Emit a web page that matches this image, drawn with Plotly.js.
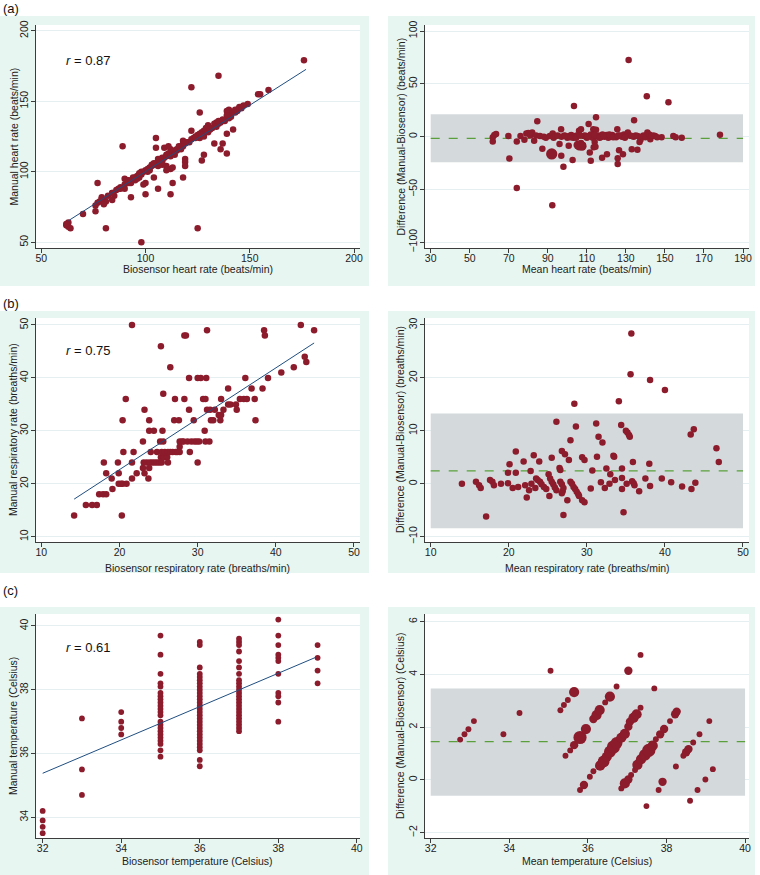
<!DOCTYPE html>
<html><head><meta charset="utf-8">
<script src="https://cdn.plot.ly/plotly-3.0.1.min.js"></script>
<style>html,body{margin:0;padding:0;background:#fff}#chart{width:760px;height:875px}</style>
</head><body><div id="chart"></div>
<script>
// ---------- (a) Heart rate: biosensor vs manual ----------
const hrBio = [176,135,122,159,154,155,149,146,145,144,143,141,140,139,141,140,139,142,139,137,136,139,133,128,127,
  138,136,135,134,133,130,129,128,127,126,125,124,123,122,121,120,119,118,117,116,115,114,113,112,111,110,109,108,107,106,105,104,103,102,101,100,99,98,97,96,95,94,93,92,90,88,86,84,82,80,78,77,
  122,126,118,119,118,115,113,111,112,109,111,105,105,89,108,106,
  119,119,119,118,113,112,112,113,110,110,108,106,104,106,100,100,99,102,101,98,97,96,93,90,90,91,87,88,85,84,84,81,80,79,79,77,76,76,70,63,62,63,64,62,81,125,98,
  126,124,127,128,130,131,132,134,135,137,143,144,145,146,147,103,104,107,108,110,112,114,116,117,98,97,95,94,93,92];
const hrMan = [179,168,160,158,155,155,148,146,145,144,142,141,144,143,139,138,140,130,127,120,116,113,120,112,108,
  136,135,134,135,134,133,131,129,128,127,126,125,124,123,121,121,120,120,118,117,116,115,114,113,112,111,110,108,108,107,106,105,104,103,102,101,100,99,98,97,96,95,93,92,91,89,87,85,83,80,79,78,
  129,142,122,121,118,115,113,113,116,117,118,124,117,118,110,109,
  109,107,104,96,92,84,102,103,104,101,105,104,96,88,84,92,91,101,100,98,96,95,82,88,95,94,88,88,83,80,85,79,77,81,82,92,76,72,70,64,62,61,60,63,60,60,50,
  124,124,126,125,128,130,131,132,136,137,144,143,146,145,147,105,106,106,107,112,111,112,118,116,100,99,94,96,92,94];
const hrFitX = [63, 177];
const hrFitY = [65.3, 172.6];

// ---------- (a) Heart rate: Bland-Altman ----------
const hrMean = [131.4,140.7,151.8,103.4,114.7,134.2,84.6,110.9,96.8,125.6,106,107,113.3,114.7,178.2,154.3,155.5,158.6,148.3,
  61.8,61.8,62.6,63.5,69.8,70.3,74.1,74.1,76,78,79,80,81,82,83,84,86,87.2,88,89,91,92,92.3,92.5,93,94,95,96.9,96,97,98,98.5,100,100.7,101,102,102.7,103,104,105,105.5,106,107,107.5,108,108.5,109,110,111,111.5,112,112,113,113.5,114,114.4,115,116,117,117.8,118,119,120,120.3,121,122,123,124,125,125.8,125.8,126.5,127,128,128.5,129,130,131,132,133,134,135,135.9,136,137,137.5,138,139,140,141,142,142.5,143,144,145,146,
  99,101.5,104.5,106.5,110.5,114,116.5,118.5,121.5,123.5,126,129.5,133,136.5];
const hrDiff = [72.6,38.2,32.5,29,18.3,15.5,14.5,12,6.9,6.9,5.7,7,6.9,6.5,1.9,0.6,-0.5,-1,-0.6,
  -4.7,-0.6,1.6,2.5,0.6,-20.8,-4.7,-48.6,0.5,-3,3,3.5,1,4,-4,1,0.5,-11.4,0,-1,0.5,-16.4,-65,3,-1,0.5,1,-18,-7,0,-28.4,1,-1,-8.5,0.5,1.5,-22,-1,0.5,1,-8,-10,-6,-9,-8,0.5,1,-1,0.5,-15.1,-22.7,2,-1,-10.1,-5,-9.5,0.5,1,-0.5,-19.9,2,0,1.5,-16.7,-1,0.5,1.5,0,-0.5,-20.5,-25.9,-12.9,1,0,-16.7,2,0.5,4,1,-12,0,1,-12.3,0.5,-5,-3,0,1,-0.5,4,2,-2.5,0.5,1,0.5,-0.5,
  0.5,-0.5,-1,1,0,1.5,-1,1,2,-0.5,1,-1,0.5,-1];
const hrCount = [1,1,1,1,1,1,1,1,1,1,1,1,1,1,1,1,1,1,1,
  1,1,1,1,1,1,1,1,1,1,1,1,1,1,1,1,1,1,1,1,1,3,1,1,1,1,1,1,1,1,1,1,1,1,1,1,1,1,1,1,2,1,1,2,1,1,1,1,1,1,1,1,1,1,1,1,1,1,1,1,1,1,1,1,1,1,1,1,1,1,1,1,1,1,1,1,1,1,1,1,1,1,1,1,1,1,1,1,1,1,1,1,1,1,1,
  1,1,1,1,1,1,1,1,1,1,1,1,1,1];
const hrBandRange = [30, 190];
const hrMeanDiff = -1.6;
const hrLimits = [-24.3, 21.1];

// ---------- (b) Respiratory rate: biosensor vs manual ----------
const rrBio = [14.2,15.7,16.5,17.1,17.4,17.9,18.3,18,18.3,19,19.1,19.8,19.9,19.9,20.2,20.4,20.3,20.4,20.5,20.8,20.9,22.2,21.6,21.6,21.8,21.6,
  23,23.1,23.5,23.9,24.2,24.5,24.8,25.1,25.4,23,23.2,23.2,23.7,23.8,23.8,23.8,24,24.4,24.8,25.2,25.6,25.3,25.7,26.1,25.5,25.3,25.6,
  25.4,25.8,26.2,26.5,26.8,27.2,27.4,27.7,26.2,26.5,27.1,27,27.6,27.7,28,28.2,27.7,28.3,28.3,28.5,28.7,29.2,29.6,29.9,30.2,28.9,28.9,29,29.5,30,30,30.4,
  30.9,30.7,31,31.1,31.2,31,31.5,31.2,31.6,31.7,32,32.2,32.7,32.9,33,33,33.3,33.9,33.9,34.2,34.9,35,35.4,35.9,36.3,36.1,36.9,37.3,37.4,38.3,38.5,38.6,39,40.7,42.3,43.2,43.7,43.9,44.9];
const rrMan = [14,16,16,16,18,18,18,24,22,21,19,24,22,20,20,20,14,32,26,36,20,22,24,21,26,50,
  23,24,24,24,24,24,24,24,24,28,34,22,21,32,30,23,26,30,26,28,28,25,25,25,30,46,37,
  26,26,26,26,26,26,26,26,24,42,36,32,32,28,28,28,27,36,48,48,28,28,28,28,28,34,40,26,32,24,40,40,
  30,36,36,40,49,28,28,34,34,32,32,34,33,32,33,36,34,38,35,35,35,34,36,36,36,40,38,36,32,38,49,48,40,41,42,50,44,43,49];
const rrFitX = [14.2, 44.9];
const rrFitY = [17.1, 46.6];

// ---------- (b) Respiratory rate: Bland-Altman ----------
const rrMean = [14,15.8,16.2,16.4,17.1,17.6,17.9,18.1,19,19.9,20.1,19.9,20.5,20.9,20.9,21.2,21.9,22.1,22.3,22.6,22.8,22.9,23.2,23.4,23.5,23.7,24,24.2,24.5,24.8,23.9,
  25.1,25.2,25.3,25.5,25.7,25.9,26.1,25.5,26.1,26.5,26.6,26.6,26.8,27,26.9,26.8,26.8,27,27.2,27.5,27.7,27.9,27.9,28.1,28.3,28.5,28.7,28.9,29,28.4,28.6,29.4,29.7,29.4,29.7,
  30.5,30.7,31.2,31.3,31.5,31.8,32,32.3,32.5,32.9,33,33.4,33.5,33.6,34.1,34.4,34.5,34.5,34.5,34.7,35,35.2,35.4,35.1,35.6,35.7,35.5,35.8,36,36.1,35.9,36.7,37.5,
  38.1,38,38.1,39.6,40,40.8,42.2,43.3,43.4,43.7,43.9,46.6,46.9];
const rrDiff = [0,0.4,-0.3,-0.8,-6.2,0.7,0.4,-0.3,0,2.1,3.7,0.1,-0.8,2.1,6.1,-0.6,4.2,-0.3,-2.6,-1.2,2.4,0,5.4,-0.8,1,0.7,0.4,-0.1,-0.6,-1,4.2,
  1.8,-2.3,1,0.4,-0.1,-0.7,-1.2,4.9,11.7,3,2.6,0.4,-0.1,-0.8,-1.4,-1.8,6.2,-5.9,5.6,-3.1,4.5,8.2,0.4,0,-0.6,-1,-1.5,-2,-2.3,15.1,10.8,5,4.5,-3.1,-3.5,
  -0.9,2.5,11.4,5.1,8.9,0.3,7.8,-0.8,2.9,0,1.8,5.3,5.1,0.7,15.6,11.1,2.9,1.1,-1,-5.4,10,9.7,9.2,0,20.7,28.4,8.9,0.5,0.1,-0.3,4.1,-1.4,1,
  19.6,3.8,-0.4,1,17.7,0.3,-0.5,9.3,-1,10.3,0.2,6.7,4.1];
const rrBandRange = [10, 50];
const rrMeanDiff = 2.45;
const rrLimits = [-8.4, 13.3];

// ---------- (c) Temperature: biosensor vs manual ----------
const tempBioLevels = [32, 33, 34, 35, 36, 37, 38, 39];
const tempManByLevel = [
  [34.2, 33.9, 33.7, 33.5],
  [37.1, 35.5, 34.7],
  [37.3, 37.0, 36.8, 36.6],
  [39.7, 39.1, 38.5, 38.2, 38.1, 37.9, 37.8, 37.7, 37.6, 37.5, 37.4, 37.3, 37.2, 37.0, 36.9, 36.8, 36.7, 36.6, 36.5, 36.4, 36.3, 36.1, 35.9],
  [39.5, 39.4, 38.7, 38.5, 38.4, 38.3, 38.2, 38.1, 38.0, 37.9, 37.8, 37.7, 37.6, 37.5, 37.4, 37.3, 37.2, 37.1, 37.0, 36.9, 36.8, 36.7, 36.6, 36.5, 36.4, 36.3, 36.2, 36.1, 35.8, 35.6],
  [39.6, 39.5, 39.4, 39.2, 38.9, 38.7, 38.5, 38.3, 38.2, 38.1, 38.0, 37.9, 37.8, 37.7, 37.6, 37.5, 37.4, 37.3, 37.2, 37.1, 37.0, 36.9, 36.8, 36.7],
  [40.2, 39.7, 39.4, 39.1, 39.0, 38.9, 38.5, 37.9, 37.8, 37.6, 37.0],
  [39.4, 39.0, 38.6, 38.2]
];
const tempFitX = [32, 38.94];
const tempFitY = [35.38, 39.01];

// ---------- (c) Temperature: Bland-Altman (count = overlapping observations) ----------
const tempMean = [32.75,32.86,32.96,33.1,33.85,34.26,35.05,35.3,35.39,35.49,35.65,35.43,35.55,35.65,35.8,35.95,35.8,35.9,36.05,36.14,
  36.14,36.22,36.3,36.44,36.56,36.31,36.4,36.48,36.56,36.65,36.73,36.85,36.94,37.03,36.73,36.85,36.94,37.03,37.1,37.2,37.26,37.03,37.34,37.34,
  37.07,37.16,37.24,37.35,37.45,37.55,37.65,37.49,37.69,37.73,37.8,37.9,37.84,37.94,38.24,38.09,38.22,38.26,38.43,38.5,38.56,38.6,38.68,38.79,38.84,38.99,39.09,39.18];
const tempDiff = [1.53,1.73,1.92,2.23,1.73,2.54,4.14,2.64,2.84,3.03,3.33,0.92,1.12,1.32,1.61,1.93,-0.38,-0.19,0.12,0.33,
  2.31,2.46,2.65,2.94,3.16,0.54,0.7,0.88,1.07,1.25,1.4,1.6,1.75,2.02,3.54,-0.32,-0.13,0.02,0.19,0.38,0.57,4.14,4.74,2.74,
  2.21,2.35,2.49,0.78,0.95,1.12,1.3,-0.99,3.47,1.54,-0.38,-0.07,1.73,1.93,0.51,2.23,2.49,2.59,0.92,1.05,1.17,-0.79,1.42,-0.38,1.73,0.02,2.23,0.41];
const tempCount = [1,1,1,1,1,1,1,1,1,1,3,1,1,2,5,3,1,2,1,1,
  2,3,3,1,3,3,4,3,4,5,4,3,3,2,1,1,3,2,1,1,3,2,1,1,
  2,3,3,3,4,5,3,1,1,1,1,2,2,2,1,1,2,2,1,2,2,1,1,1,1,1,1,1];
const tempBandRange = [32, 40];
const tempMeanDiff = 1.45;
const tempLimits = [-0.6, 3.47];

// ---------- labels ----------
const panelLabels = ['(a)', '(b)', '(c)'];
const rValues = ['0.87', '0.75', '0.61'];
const xTitles = ['Biosensor heart rate (beats/min)', 'Mean heart rate (beats/min)',
  'Biosensor respiratory rate (breaths/min)', 'Mean respiratory rate (breaths/min)',
  'Biosensor temperature (Celsius)', 'Mean temperature (Celsius)'];
const yTitles = ['Manual heart rate (beats/min)', 'Difference (Manual-Biosensor) (beats/min)',
  'Manual respiratory rate (breaths/min)', 'Difference (Manual-Biosensor) (breaths/min)',
  'Manual temperature (Celsius)', 'Difference (Manual-Biosensor) (Celsius)'];
const xTicks = [[50,100,150,200],[30,50,70,90,110,130,150,170,190],[10,20,30,40,50],[10,20,30,40,50],[32,34,36,38,40],[32,34,36,38,40]];
const yTicks = [[50,100,150,200],[-100,-50,0,50,100],[10,20,30,40,50],[-10,0,10,20,30],[34,36,38,40],[-2,0,2,4,6]];

// ---------- styling / layout ----------
const W = 760, H = 875;
const MARK = '#8c1b2c', FIT = '#1f4e80', MEANC = '#5a9f3c', BAND = '#d4dadc', MINT = '#e8f6f1';
const colPx = [[36, 360], [425, 749]];
const rowPx = [[25, 248], [318, 542], [614, 838]];
const mintCol = [[0, 369], [388, 755]];
const mintRow = [[16, 286], [311, 573], [607, 875]];
const xTitleY = [269, 567.5, 860.5];
const xRanges = [[47.46,202.88],[27.08,193.07],[9.32,50.77],[9.27,50.77],[31.83,40.08],[31.855,40.10]];
const yRanges = [[45.96,204.04],[-105.4,105.68],[9.0,51.32],[-11.0,31.32],[33.35,40.376],[-2.2,6.29]];
const FONT = 'Arial, "Liberation Sans", Helvetica, sans-serif';

const fx = p => p / W, fy = p => 1 - p / H;

const layout = {
  width: W, height: H, margin: {l:0, r:0, t:0, b:0},
  paper_bgcolor: '#ffffff', plot_bgcolor: 'rgba(0,0,0,0)',
  showlegend: false, hovermode: false,
  font: {family: FONT, size: 10.5, color: '#222'},
  shapes: [], annotations: []
};

for (let i = 0; i < 6; i++) {
  const r = Math.floor(i / 2), c = i % 2;
  const sfx = i === 0 ? '' : String(i + 1);
  const xd = [fx(colPx[c][0]), fx(colPx[c][1])];
  const yd = [fy(rowPx[r][1]), fy(rowPx[r][0])];
  layout['xaxis' + sfx] = {
    domain: xd, range: xRanges[i], anchor: 'y' + sfx, tickmode: 'array', tickvals: xTicks[i],
    showline: true, linecolor: '#3c3c3c', linewidth: 1, ticks: 'outside', ticklen: 4, tickwidth: 1, tickcolor: '#3c3c3c',
    ticklabelstandoff: -4,
    showgrid: false, zeroline: false, tickfont: {size: 10.5, color: '#222'}, fixedrange: true
  };
  layout['yaxis' + sfx] = {
    domain: yd, range: yRanges[i], anchor: 'x' + sfx, tickmode: 'array', tickvals: yTicks[i],
    showline: true, linecolor: '#3c3c3c', linewidth: 1, ticks: 'outside', ticklen: 4, tickwidth: 1, tickcolor: '#3c3c3c',
    ticklabelstandoff: -1,
    showgrid: true, gridcolor: '#e5eef0', gridwidth: 1, zeroline: false, tickangle: -90,
    tickfont: {size: 10.5, color: '#222'}, fixedrange: true
  };
  // mint panel background
  layout.shapes.push({type:'rect', xref:'paper', yref:'paper', layer:'below',
    x0: fx(mintCol[c][0]), x1: fx(mintCol[c][1]), y0: fy(mintRow[r][1]), y1: fy(mintRow[r][0]),
    fillcolor: MINT, line: {width: 0}});
  // axis titles
  layout.annotations.push({text: xTitles[i], xref:'paper', yref:'paper', showarrow:false,
    x: fx((colPx[c][0] + colPx[c][1]) / 2), y: fy(xTitleY[r]), xanchor:'center', yanchor:'middle',
    font: {size: 10.5, color: '#222'}});
  layout.annotations.push({text: yTitles[i], xref:'paper', yref:'paper', showarrow:false, textangle: -90,
    x: fx(c === 0 ? 13 : 400), y: fy((rowPx[r][0] + rowPx[r][1]) / 2), xanchor:'center', yanchor:'middle',
    font: {size: 10.5, color: '#222'}});
}
for (let i = 0; i < 6; i++) {
  const r = Math.floor(i / 2), c = i % 2;
  layout.shapes.push({type:'rect', xref:'paper', yref:'paper', layer:'below',
    x0: fx(colPx[c][0]), x1: fx(colPx[c][1]), y0: fy(rowPx[r][1]), y1: fy(rowPx[r][0]),
    fillcolor: '#ffffff', line: {width: 0}});
}
const labelY = [8.5, 303, 590];
const rY = [60.7, 350, 647.7];
for (let r = 0; r < 3; r++) {
  layout.annotations.push({text: panelLabels[r], xref:'paper', yref:'paper', showarrow:false,
    x: fx(1), y: fy(labelY[r]), xanchor:'left', yanchor:'middle', font:{size: 13, color:'#111'}});
  layout.annotations.push({text: '<i>r</i> = ' + rValues[r], xref:'paper', yref:'paper', showarrow:false,
    x: fx(64), y: fy(rY[r]), xanchor:'left', yanchor:'middle', font:{size: 13, color:'#111'}});
}

// ---------- traces ----------
const traces = [];
function scatterL(x, y, ax, size) {
  traces.push({type:'scatter', mode:'markers', x, y, xaxis:'x'+ax, yaxis:'y'+ax,
    marker:{color: MARK, size: size, opacity: 1, line:{width:0}}});
}
function fitLine(x, y, ax) {
  traces.push({type:'scatter', mode:'lines', x, y, xaxis:'x'+ax, yaxis:'y'+ax, line:{color: FIT, width: 1}});
}
function blandAltman(mean, diff, count, band, md, lim, ax, base) {
  traces.push({type:'scatter', mode:'lines', xaxis:'x'+ax, yaxis:'y'+ax,
    x: [band[0], band[1], band[1], band[0], band[0]], y: [lim[0], lim[0], lim[1], lim[1], lim[0]],
    fill:'toself', fillcolor: BAND, line:{width:0, color: BAND}});
  traces.push({type:'scatter', mode:'lines', xaxis:'x'+ax, yaxis:'y'+ax,
    x: [band[0], band[1]], y: [md, md], line:{color: MEANC, width: 1.3, dash: 'dash'}});
  traces.push({type:'scatter', mode:'markers', x: mean, y: diff, xaxis:'x'+ax, yaxis:'y'+ax,
    marker:{color: MARK, opacity: 1, size: count ? count.map(n => base * Math.sqrt(n)) : base, line:{width:0}}});
}

scatterL(hrBio, hrMan, '', 6.5);
fitLine(hrFitX, hrFitY, '');
blandAltman(hrMean, hrDiff, hrCount, hrBandRange, hrMeanDiff, hrLimits, '2', 6.5);

scatterL(rrBio, rrMan, '3', 6.5);
fitLine(rrFitX, rrFitY, '3');
blandAltman(rrMean, rrDiff, null, rrBandRange, rrMeanDiff, rrLimits, '4', 6.5);

const tX = [], tY = [];
tempBioLevels.forEach((lv, k) => tempManByLevel[k].forEach(v => { tX.push(lv); tY.push(v); }));
scatterL(tX, tY, '5', 5.8);
fitLine(tempFitX, tempFitY, '5');
blandAltman(tempMean, tempDiff, tempCount, tempBandRange, tempMeanDiff, tempLimits, '6', 5.9);

Plotly.newPlot('chart', traces, layout, {staticPlot: true, displayModeBar: false});
</script></body></html>
